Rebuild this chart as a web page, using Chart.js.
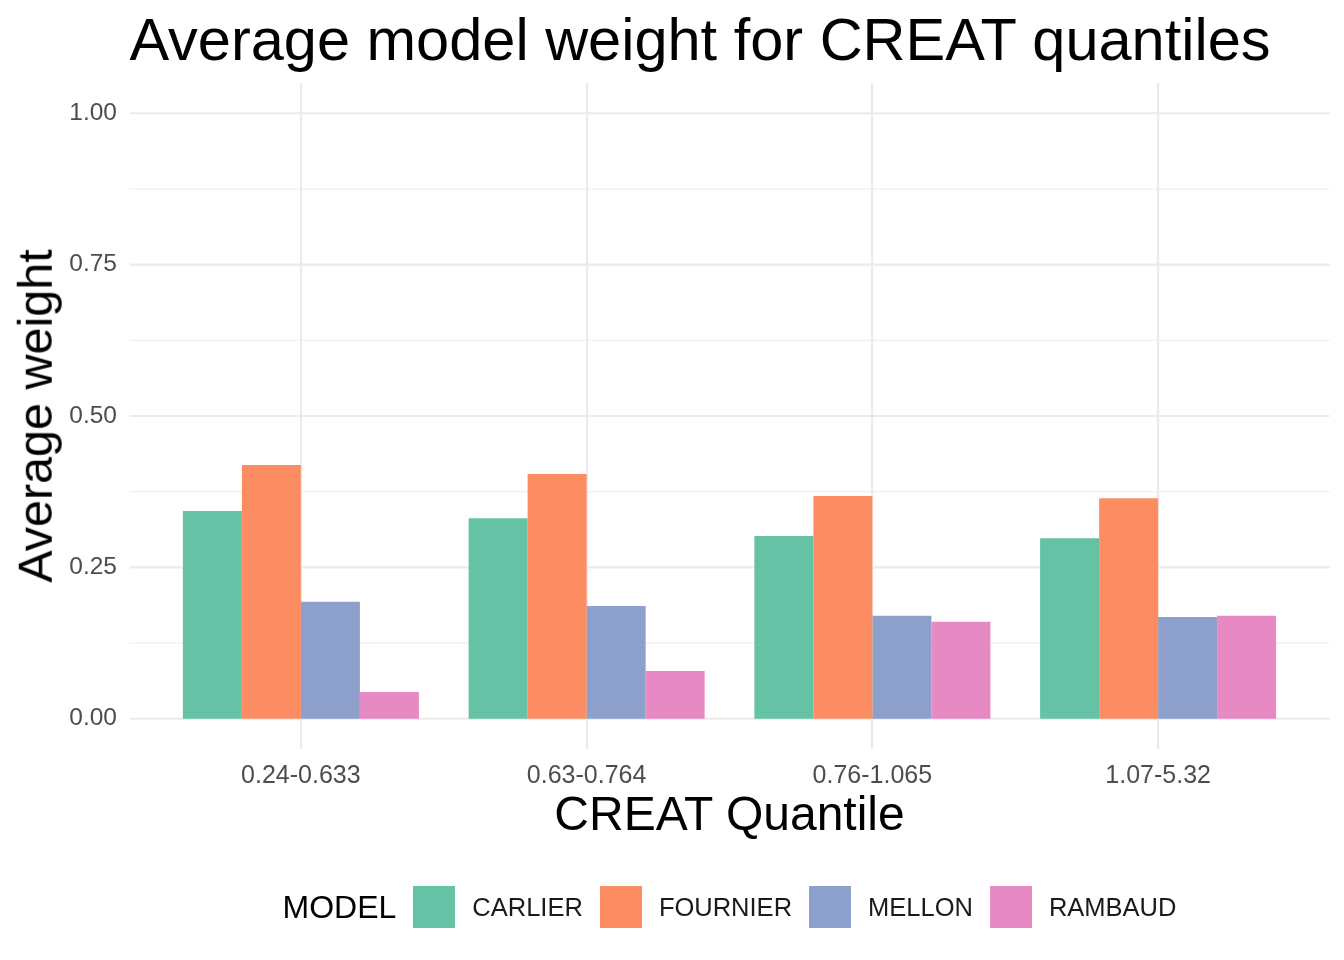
<!DOCTYPE html>
<html>
<head>
<meta charset="utf-8">
<script src="https://cdn.jsdelivr.net/npm/chart.js@4.4.1/dist/chart.umd.min.js"></script>
<style>
  body { margin: 0; background: #fff; font-family: "Liberation Sans", Arial, sans-serif; }
  #wrap { position: relative; width: 1344px; height: 960px; }
  #chart { position: absolute; left: 0; top: 0; }
  .txt { position: absolute; color: #000; white-space: nowrap; line-height: 1; }
  #title { left: 28px; width: 1344px; text-align: center; top: 10px; font-size: 59.5px; }
  #xtitle { left: 129px; width: 1201px; text-align: center; top: 790px; font-size: 48px; }
  #ytitle { left: 35px; top: 416px; font-size: 48.5px; transform: translate(-50%, -50%) rotate(-90deg); }
  #legend { position: absolute; left: 129px; width: 1201px; top: 886px; display: flex; justify-content: center; align-items: center; }
  #legend .ttl { font-size: 32px; margin-right: 17px; }
  #legend .box { width: 42px; height: 42px; margin-right: 17px; }
  #legend .lab { font-size: 25.5px; margin-right: 17px; color: #1a1a1a; }
  #legend .lab:last-child { margin-right: 0; }
</style>
</head>
<body>
<div id="wrap">
  <canvas id="chart" width="1344" height="960"></canvas>
  <div class="txt" id="title">Average model weight for CREAT quantiles</div>
  <div class="txt" id="xtitle">CREAT Quantile</div>
  <div class="txt" id="ytitle">Average weight</div>
  <div id="legend"></div>
</div>
<script>
// ================= DATA =================
const quantiles = ["0.24-0.633", "0.63-0.764", "0.76-1.065", "1.07-5.32"];
const models = ["CARLIER", "FOURNIER", "MELLON", "RAMBAUD"];
const carlier = [0.343, 0.331, 0.302, 0.298];
const fournier = [0.419, 0.404, 0.368, 0.364];
const mellon = [0.193, 0.186, 0.170, 0.168];
const rambaud = [0.044, 0.079, 0.160, 0.170];
const colors = ["#66C2A5", "#FC8D62", "#8DA0CB", "#E78AC3"];
const yTicks = [0, 0.25, 0.5, 0.75, 1.0];
const yMinor = [0.125, 0.375, 0.625, 0.875];

const series = [carlier, fournier, mellon, rambaud];

// ================= LEGEND =================
const legend = document.getElementById("legend");
legend.innerHTML = '<span class="ttl">MODEL</span>' +
  models.map((m, i) =>
    `<span class="box" style="background:${colors[i]}"></span><span class="lab">${m}</span>`
  ).join("");

// ================= CHART =================
const GRID = "#EBEBEB";
const PANEL_L = 129.4, PANEL_R = 1329.6;

// horizontal grid lines span the whole panel, wider than the bar area
const panelGrid = {
  id: "panelGrid",
  beforeDatasetsDraw(chart) {
    const y = chart.scales.y;
    const c = chart.ctx;
    c.save();
    c.strokeStyle = GRID;
    const line = (v, w) => {
      const py = y.getPixelForValue(v);
      c.lineWidth = w;
      c.beginPath();
      c.moveTo(PANEL_L, py);
      c.lineTo(PANEL_R, py);
      c.stroke();
    };
    yMinor.forEach(v => line(v, 1.1));
    yTicks.forEach(v => line(v, 2.2));
    c.restore();
  }
};

Chart.defaults.font.family = "'Liberation Sans', Arial, sans-serif";

new Chart(document.getElementById("chart"), {
  type: "bar",
  data: {
    labels: quantiles,
    datasets: models.map((m, i) => ({
      label: m,
      data: series[i],
      backgroundColor: colors[i],
      borderWidth: 0,
      categoryPercentage: 0.826,
      barPercentage: 1.0
    }))
  },
  options: {
    responsive: false,
    animation: false,
    layout: { padding: { left: 0, top: 83, right: 43, bottom: 151 } },
    plugins: { legend: { display: false }, tooltip: { enabled: false } },
    scales: {
      x: {
        offset: true,
        afterFit: s => { s.height = 60; },
        grid: { offset: false, color: GRID, lineWidth: 2.2, drawTicks: false, tickLength: 0 },
        border: { display: false },
        ticks: { color: "#4D4D4D", font: { size: 25 }, padding: 12, maxRotation: 0 }
      },
      y: {
        min: -0.05,
        max: 1.05,
        afterFit: s => { s.width = 158; },
        afterBuildTicks: s => { s.ticks = yTicks.map(v => ({ value: v })); },
        grid: { display: false },
        border: { display: false },
        ticks: {
          color: "#4D4D4D",
          font: { size: 24.5 },
          padding: 33,
          callback: v => Number(v).toFixed(2)
        }
      }
    }
  },
  plugins: [panelGrid]
});
</script>
</body>
</html>
